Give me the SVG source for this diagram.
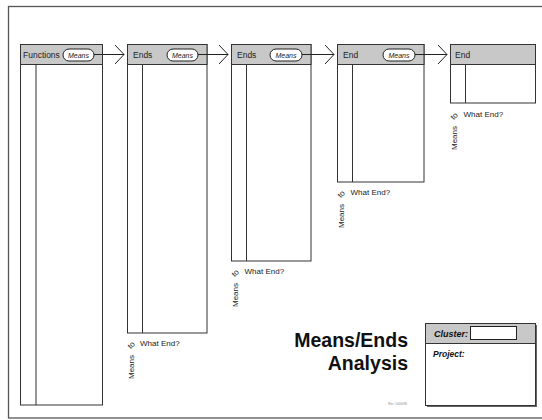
<svg xmlns="http://www.w3.org/2000/svg" width="542" height="420" viewBox="0 0 542 420">
<defs>
<style>
.col{fill:#fff;stroke:#333;stroke-width:1}
.hdr{fill:#c8c8c8;stroke:#333;stroke-width:1}
.div{stroke:#333;stroke-width:1}
.pill{fill:#fff;stroke:#222;stroke-width:1}
.ht{font-family:"Liberation Sans",Arial,sans-serif;font-size:8.5px;fill:#222}
.pt{font-family:"Liberation Sans",Arial,sans-serif;font-size:7px;font-style:italic;fill:#222;text-anchor:middle}
.lbl{font-family:"Liberation Sans",Arial,sans-serif;font-size:8px;fill:#222}
.conn{stroke:#222;stroke-width:1;fill:none}
.title{font-family:"Liberation Sans",Arial,sans-serif;font-size:19.5px;font-weight:bold;fill:#111;text-anchor:end}
.bi{font-family:"Liberation Sans",Arial,sans-serif;font-weight:bold;font-style:italic;fill:#111}
</style>
<marker id="chev" viewBox="0 0 10 20" refX="9.5" refY="10" markerWidth="10" markerHeight="20" markerUnits="userSpaceOnUse" orient="auto">
<path d="M0.5,0.5 L9.5,10 L0.5,19.5" fill="none" stroke="#222" stroke-width="1"/>
</marker>
</defs>
<rect width="542" height="420" fill="#fff"/>
<rect x="8.5" y="6.5" width="560" height="411.5" fill="none" stroke="#555" stroke-width="1.3"/>

<g id="col1">
<rect class="col" x="20.5" y="44.5" width="82" height="360.5"/>
<rect class="hdr" x="20.5" y="44.5" width="82" height="20"/>
<line class="div" x1="36" y1="64.5" x2="36" y2="405"/>
<text class="ht" x="23" y="57.5">Functions</text>
<rect class="pill" x="63" y="49" width="31" height="12" rx="6"/>
<text class="pt" x="78.5" y="57.5">Means</text>
</g>

<g id="col2">
<rect class="col" x="127.5" y="44.5" width="79.5" height="288.5"/>
<rect class="hdr" x="127.5" y="44.5" width="79.5" height="20"/>
<line class="div" x1="142.5" y1="64.5" x2="142.5" y2="333"/>
<text class="ht" x="133" y="57.5">Ends</text>
<rect class="pill" x="167" y="49" width="31" height="12" rx="6"/>
<text class="pt" x="182.5" y="57.5">Means</text>
<text class="lbl" transform="translate(133.5,379) rotate(-90)">Means</text>
<text class="lbl" transform="translate(133,347) rotate(-45)" text-anchor="middle">to</text>
<text class="lbl" x="140" y="346">What End?</text>
</g>

<g id="col3">
<rect class="col" x="231.5" y="44.5" width="79.5" height="216.5"/>
<rect class="hdr" x="231.5" y="44.5" width="79.5" height="20"/>
<line class="div" x1="246.5" y1="64.5" x2="246.5" y2="261"/>
<text class="ht" x="237" y="57.5">Ends</text>
<rect class="pill" x="270" y="49" width="32" height="12" rx="6"/>
<text class="pt" x="286" y="57.5">Means</text>
<text class="lbl" transform="translate(237.5,307) rotate(-90)">Means</text>
<text class="lbl" transform="translate(237,275) rotate(-45)" text-anchor="middle">to</text>
<text class="lbl" x="244.5" y="274">What End?</text>
</g>

<g id="col4">
<rect class="col" x="337.5" y="44.5" width="86.5" height="137.5"/>
<rect class="hdr" x="337.5" y="44.5" width="86.5" height="20"/>
<line class="div" x1="352.5" y1="64.5" x2="352.5" y2="182"/>
<text class="ht" x="343" y="57.5">End</text>
<rect class="pill" x="383" y="49" width="32" height="12" rx="6"/>
<text class="pt" x="399" y="57.5">Means</text>
<text class="lbl" transform="translate(343.5,228) rotate(-90)">Means</text>
<text class="lbl" transform="translate(343,196) rotate(-45)" text-anchor="middle">to</text>
<text class="lbl" x="350.5" y="195">What End?</text>
</g>

<g id="col5">
<rect class="col" x="450.5" y="44.5" width="85" height="58.5"/>
<rect class="hdr" x="450.5" y="44.5" width="85" height="20"/>
<line class="div" x1="465.5" y1="64.5" x2="465.5" y2="103"/>
<text class="ht" x="455" y="57.5">End</text>
<text class="lbl" transform="translate(456.5,150) rotate(-90)">Means</text>
<text class="lbl" transform="translate(456,118) rotate(-45)" text-anchor="middle">to</text>
<text class="lbl" x="463.5" y="117">What End?</text>
</g>

<g id="connectors">
<line class="conn" x1="94" y1="54.5" x2="124" y2="54.5" marker-end="url(#chev)"/>
<line class="conn" x1="198" y1="54.5" x2="228" y2="54.5" marker-end="url(#chev)"/>
<line class="conn" x1="302" y1="54.5" x2="334" y2="54.5" marker-end="url(#chev)"/>
<line class="conn" x1="415" y1="54.5" x2="447" y2="54.5" marker-end="url(#chev)"/>
</g>

<g id="title">
<text class="title" x="408" y="347">Means/Ends</text>
<text class="title" x="408" y="370">Analysis</text>
<text x="407" y="405" font-family="Liberation Sans, Arial, sans-serif" font-size="3px" fill="#888" text-anchor="end">Rev: 10/00/98</text>
</g>

<g id="cluster">
<rect x="427" y="325" width="110" height="82" fill="#666"/>
<rect x="425.5" y="323.5" width="110" height="82" fill="#fff" stroke="#333" stroke-width="1"/>
<rect x="425.5" y="323.5" width="110" height="20" fill="#c8c8c8" stroke="#333" stroke-width="1"/>
<text class="bi" x="434" y="336.5" font-size="9px">Cluster:</text>
<rect x="470.5" y="326.5" width="46" height="13" fill="#fff" stroke="#222" stroke-width="1"/>
<text class="bi" x="433" y="357" font-size="8.5px">Project:</text>
</g>
</svg>
